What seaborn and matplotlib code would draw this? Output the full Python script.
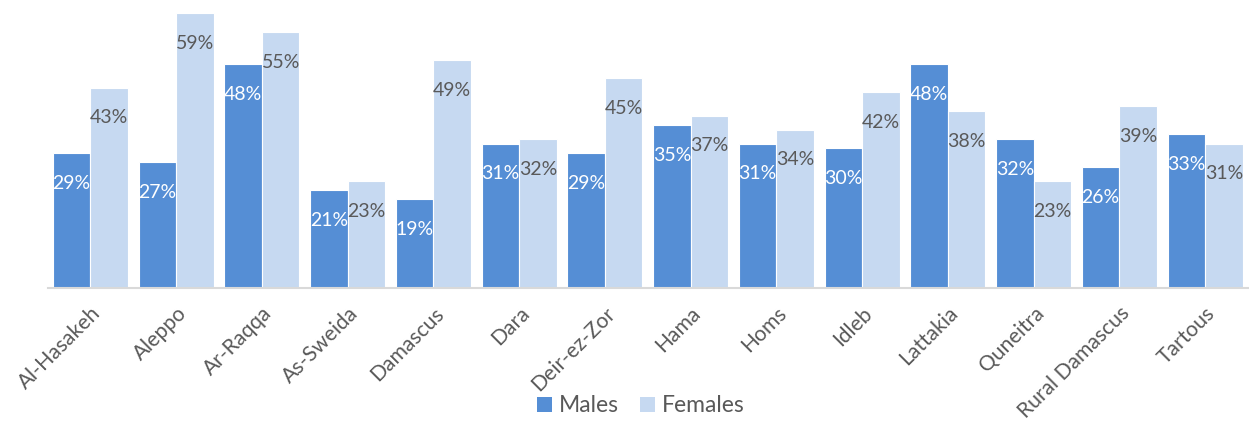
import matplotlib
matplotlib.use("Agg")
import matplotlib.pyplot as plt
import seaborn as sns
import pandas as pd
from matplotlib.patches import Patch

regions = ["Al-Hasakeh", "Aleppo", "Ar-Raqqa", "As-Sweida", "Damascus", "Dara",
           "Deir-ez-Zor", "Hama", "Homs", "Idleb", "Lattakia", "Quneitra",
           "Rural Damascus", "Tartous"]
males = [29, 27, 48, 21, 19, 31, 29, 35, 31, 30, 48, 32, 26, 33]
females = [43, 59, 55, 23, 49, 32, 45, 37, 34, 42, 38, 23, 39, 31]
series = ["Males", "Females"]
colors = ["#558ED5", "#C6D9F1"]
label_colors = ["white", "#595959"]

df = pd.DataFrame({
    "region": regions * 2,
    "value": males + females,
    "sex": ["Males"] * len(regions) + ["Females"] * len(regions),
})

sns.set_theme(style="white")
plt.rcParams["font.family"] = ["Lato", "DejaVu Sans"]

fig = plt.figure(figsize=(12.49, 4.26), dpi=100)
ax = fig.add_axes([0.0381, 0.324, 0.9611, 0.664])

sns.barplot(data=df, x="region", y="value", hue="sex", order=regions,
            hue_order=series, palette=colors, saturation=1, width=0.875, gap=0,
            edgecolor="white", linewidth=0.8, ax=ax, legend=False,
            errorbar=None)

for cont, lc in zip(ax.containers, label_colors):
    ax.bar_label(cont, labels=[f"{int(round(v))}%" for v in cont.datavalues],
                 padding=-28, color=lc, fontsize=14)

ax.set_ylim(0, 60.7)
ax.set_xlim(-0.5, len(regions) - 0.5)
ax.set_xlabel("")
ax.set_ylabel("")
ax.set_yticks([])
for s in ["top", "right", "left"]:
    ax.spines[s].set_visible(False)
ax.spines["bottom"].set_color("#D9D9D9")
ax.spines["bottom"].set_linewidth(1.5)
ax.tick_params(axis="x", length=0, pad=11, labelsize=15.2, colors="#595959")
plt.setp(ax.get_xticklabels(), rotation=45, ha="right", rotation_mode="anchor")

handles = [Patch(facecolor=c, edgecolor="none") for c in colors]
fig.legend(handles, series, loc="center", bbox_to_anchor=(0.513, 0.047),
           ncol=2, frameon=False, fontsize=16.5, labelcolor="#595959",
           handlelength=0.65, handleheight=0.65, handletextpad=0.3,
           columnspacing=0.95)

fig.savefig("out.png", dpi=100)
